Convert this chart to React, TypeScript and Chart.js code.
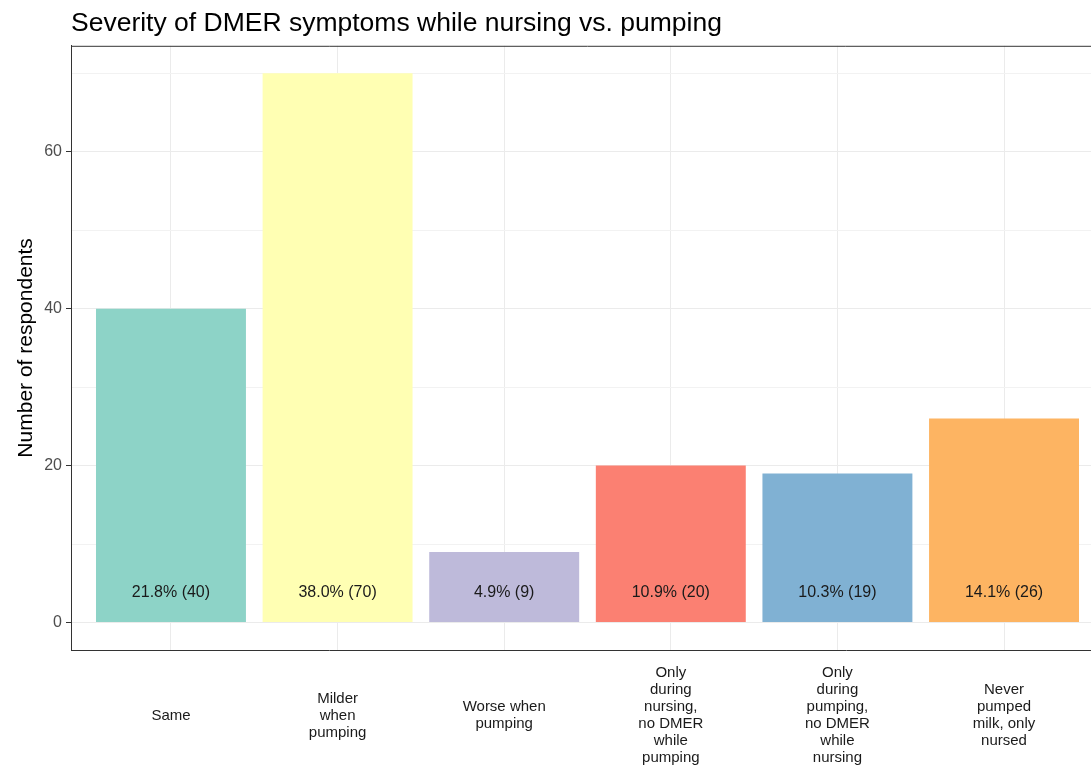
import React, { useEffect, useRef } from "react";
import { Chart, registerables } from "chart.js";

Chart.register(...registerables);

const categories: string[][] = [
  ["Same"],
  ["Milder", "when", "pumping"],
  ["Worse when", "pumping"],
  ["Only", "during", "nursing,", "no DMER", "while", "pumping"],
  ["Only", "during", "pumping,", "no DMER", "while", "nursing"],
  ["Never", "pumped", "milk, only", "nursed"],
];
const counts: number[] = [40, 70, 9, 20, 19, 26];
const barLabels: string[] = [
  "21.8% (40)",
  "38.0% (70)",
  "4.9% (9)",
  "10.9% (20)",
  "10.3% (19)",
  "14.1% (26)",
];
const barColors: string[] = ["#8DD3C7", "#FFFFB3", "#BEBADA", "#FB8072", "#80B1D3", "#FDB462"];
const yTicks: number[] = [0, 10, 20, 30, 40, 50, 60, 70];
const labelValue = 3.8;

const FONT = "Arial, 'Liberation Sans', sans-serif";

export default function App() {
  const ref = useRef<HTMLCanvasElement | null>(null);

  useEffect(() => {
    if (!ref.current) return;

    const borderPlugin = {
      id: "panelBorder",
      afterDraw(chart: any) {
        const { ctx, chartArea } = chart;
        ctx.save();
        ctx.strokeStyle = "#333333";
        ctx.lineWidth = 1;
        ctx.beginPath();
        ctx.moveTo(chartArea.left, chartArea.top + 0.5);
        ctx.lineTo(chartArea.right, chartArea.top + 0.5);
        ctx.stroke();
        ctx.restore();
      },
    };

    const barLabelPlugin = {
      id: "barLabels",
      afterDatasetsDraw(chart: any) {
        const { ctx } = chart;
        const meta = chart.getDatasetMeta(0);
        const y = chart.scales.y.getPixelForValue(labelValue);
        ctx.save();
        ctx.font = `16px ${FONT}`;
        ctx.fillStyle = "#1A1A1A";
        ctx.textAlign = "center";
        ctx.textBaseline = "middle";
        meta.data.forEach((el: any, i: number) => {
          ctx.fillText(barLabels[i], el.x, y);
        });
        ctx.restore();
      },
    };

    const chart = new Chart(ref.current, {
      type: "bar",
      data: {
        datasets: [
          {
            data: counts.map((v, i) => ({ x: i + 1, y: v })),
            backgroundColor: barColors,
            borderWidth: 0,
            barPercentage: 0.9,
            categoryPercentage: 1,
          },
        ],
      },
      plugins: [borderPlugin, barLabelPlugin],
      options: {
        animation: false,
        responsive: false,
        devicePixelRatio: 1,
        layout: { padding: { left: 0, right: 6, top: 0, bottom: 0 } },
        plugins: {
          legend: { display: false },
          tooltip: { enabled: false },
          title: {
            display: true,
            text: "Severity of DMER symptoms while nursing vs. pumping",
            align: "start",
            fullSize: false,
            color: "#000000",
            font: { family: FONT, size: 26.5, weight: "normal" },
            padding: { top: 8, bottom: 6 },
          },
        },
        scales: {
          x: {
            type: "linear",
            min: 0.4,
            max: 6.6,
            offset: false,
            afterBuildTicks: (axis: any) => {
              axis.ticks = categories.map((_, i) => ({ value: i + 1 }));
            },
            grid: {
              color: "#EBEBEB",
              lineWidth: 1,
              drawTicks: false,
              offset: false,
            },
            border: { display: true, color: "#333333", width: 1 },
            ticks: {
              autoSkip: false,
              maxRotation: 0,
              minRotation: 0,
              padding: 23,
              crossAlign: "center",
              color: "#1A1A1A",
              font: { family: FONT, size: 15, lineHeight: 17 / 15 },
              callback: (v: any) => {
                const idx = Math.round(Number(v)) - 1;
                return categories[idx] ?? "";
              },
            },
          },
          y: {
            min: -3.5,
            max: 73.5,
            afterBuildTicks: (axis: any) => {
              axis.ticks = yTicks.map((v) => ({ value: v }));
            },
            afterFit: (scale: any) => {
              scale.width = 71;
            },
            grid: {
              color: (c: any) => (c.tick && c.tick.value % 20 === 0 ? "#EBEBEB" : "#F2F2F2"),
              lineWidth: 1,
              drawTicks: true,
              tickLength: 5,
              tickColor: (c: any) => (c.tick && c.tick.value % 20 === 0 ? "#333333" : "rgba(0,0,0,0)"),
            },
            border: { display: true, color: "#333333", width: 1 },
            ticks: {
              padding: 4,
              color: "#4D4D4D",
              font: { family: FONT, size: 16 },
              callback: (v: any) => (Number(v) % 20 === 0 ? String(v) : ""),
            },
            title: {
              display: true,
              text: "Number of respondents",
              color: "#000000",
              font: { family: FONT, size: 21 },
              padding: { top: 14, bottom: 0 },
            },
          },
        },
      },
    } as any);

    return () => chart.destroy();
  }, []);

  return (
    <div
      style={{
        position: "fixed",
        left: 0,
        top: 0,
        width: 1091,
        height: 769,
        overflow: "hidden",
        background: "#ffffff",
      }}
    >
      <canvas ref={ref} width={1110} height={798} style={{ display: "block" }} />
    </div>
  );
}
